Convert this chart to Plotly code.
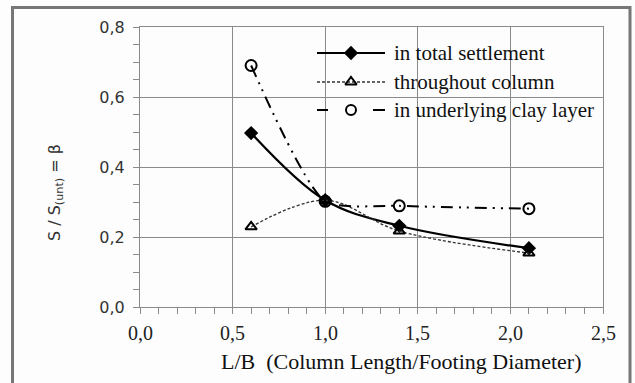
import plotly.graph_objects as go

# L/B ratios of the tested columns
lb_ratio = [0.6, 1.0, 1.4, 2.1]

# settlement ratio beta = S / S(unt)
beta_total = [0.497, 0.305, 0.232, 0.168]
beta_column = [0.229, 0.305, 0.217, 0.154]
beta_clay = [0.690, 0.302, 0.289, 0.281]

legend_labels = ["in total settlement", "throughout column", "in underlying clay layer"]

x_tick_vals = [0.0, 0.5, 1.0, 1.5, 2.0, 2.5]
x_tick_text = ["0,0", "0,5", "1,0", "1,5", "2,0", "2,5"]

X_RANGE = [0, 2.5]
Y_RANGE = [0, 0.8]

# plot area in pixels: left 140, right 603, top 27, bottom 307
W, H = 635, 383
L, R, T, B = 140, 603, 27, 307


def px_x(p):
    """pixel column -> paper fraction"""
    return (p - L) / (R - L)


def px_y(p):
    """pixel row -> paper fraction"""
    return (B - p) / (B - T)


def dx(p):
    """pixel column -> x data value (used for the legend keys)"""
    return X_RANGE[0] + px_x(p) * (X_RANGE[1] - X_RANGE[0])


def dy(p):
    """pixel row -> y data value (used for the legend keys)"""
    return Y_RANGE[0] + px_y(p) * (Y_RANGE[1] - Y_RANGE[0])


GRID = "#8a8a8a"
SERIF = "Liberation Serif"
SANS = "DejaVu Sans"
CLAY_DASH = "12px,6px,2px,6px,2px,6px"
COL_DASH = "3px,2px"

fig = go.Figure()

fig.add_trace(go.Scatter(
    x=lb_ratio, y=beta_total, mode="lines+markers",
    line=dict(color="black", width=2.2, shape="spline", smoothing=1.0),
    marker=dict(symbol="diamond", size=11, color="black"),
    showlegend=False))

fig.add_trace(go.Scatter(
    x=lb_ratio, y=beta_column, mode="lines+markers",
    line=dict(color="#333333", width=1.3, dash=COL_DASH, shape="spline", smoothing=1.0),
    marker=dict(symbol="triangle-up-open", size=10, color="black", line=dict(width=2)),
    showlegend=False))

fig.add_trace(go.Scatter(
    x=lb_ratio, y=beta_clay, mode="lines+markers",
    line=dict(color="black", width=2, dash=CLAY_DASH, shape="spline", smoothing=0.6),
    marker=dict(symbol="circle-open", size=11, color="black", line=dict(width=2)),
    showlegend=False))

# legend keys
kx0, kx1, kxm = dx(317), dx(385), dx(351)
ky = [dy(53), dy(82), dy(110)]

fig.add_trace(go.Scatter(
    x=[kx0, kx1], y=[ky[0], ky[0]], mode="lines",
    line=dict(color="black", width=2.2), showlegend=False, hoverinfo="skip"))
fig.add_trace(go.Scatter(
    x=[kxm], y=[ky[0]], mode="markers",
    marker=dict(symbol="diamond", size=11, color="black"), showlegend=False, hoverinfo="skip"))

fig.add_trace(go.Scatter(
    x=[kx0, kx1], y=[ky[1], ky[1]], mode="lines",
    line=dict(color="#333333", width=1.3, dash=COL_DASH), showlegend=False, hoverinfo="skip"))
fig.add_trace(go.Scatter(
    x=[kxm], y=[ky[1]], mode="markers",
    marker=dict(symbol="triangle-up-open", size=10, color="black", line=dict(width=2)),
    showlegend=False, hoverinfo="skip"))

fig.add_trace(go.Scatter(
    x=[kx0, dx(328), None, dx(373), kx1], y=[ky[2], ky[2], None, ky[2], ky[2]],
    mode="lines", line=dict(color="black", width=2), showlegend=False, hoverinfo="skip"))
fig.add_trace(go.Scatter(
    x=[kxm], y=[ky[2]], mode="markers",
    marker=dict(symbol="circle-open", size=10, color="black", line=dict(width=2)),
    showlegend=False, hoverinfo="skip"))

annotations = []
for label, yy in zip(legend_labels, [53, 82, 110]):
    annotations.append(dict(
        x=px_x(392), y=px_y(yy), xref="paper", yref="paper", text=label, showarrow=False,
        xanchor="left", yanchor="middle", font=dict(family=SERIF, size=21, color="#111")))

# x tick labels, set a little lower than the axis default
for v, t in zip(x_tick_vals, x_tick_text):
    annotations.append(dict(
        x=v, y=px_y(333), xref="x", yref="paper", text=t, showarrow=False,
        xanchor="center", yanchor="middle", font=dict(family=SERIF, size=20, color="#222")))

annotations.append(dict(
    x=px_x(219), y=px_y(361), xref="paper", yref="paper",
    text="L/B  (Column Length/Footing Diameter)", showarrow=False,
    xanchor="left", yanchor="middle", font=dict(family=SERIF, size=22, color="#111")))

annotations.append(dict(
    x=px_x(55), y=px_y(193), xref="paper", yref="paper",
    text="S / S<sub>(unt)</sub> = β", showarrow=False, textangle=-90,
    xanchor="center", yanchor="middle", font=dict(family=SANS, size=16, color="#333")))

# outer frame around the whole chart
shapes = [dict(
    type="rect", xref="paper", yref="paper",
    x0=px_x(12.5), x1=px_x(630), y0=px_y(392), y1=px_y(7.5),
    line=dict(color="#777777", width=3), fillcolor="rgba(0,0,0,0)", layer="above")]

fig.update_layout(
    width=W, height=H,
    margin=dict(l=L, r=W - R, t=T, b=H - B, pad=0),
    paper_bgcolor="#fdfdfd", plot_bgcolor="#fdfdfd",
    separators=",.",
    annotations=annotations, shapes=shapes,
    xaxis=dict(
        range=X_RANGE, tickvals=x_tick_vals, showticklabels=False,
        showgrid=True, gridcolor=GRID, gridwidth=1,
        showline=True, linecolor=GRID, linewidth=1, mirror=True,
        ticks="outside", ticklen=6, tickcolor=GRID, tickwidth=1,
        minor=dict(dtick=0.1, ticks="outside", ticklen=6, tickcolor=GRID),
        zeroline=False),
    yaxis=dict(
        range=Y_RANGE, dtick=0.2, tick0=0, tickformat=".1f", ticksuffix=" ",
        showgrid=True, gridcolor=GRID, gridwidth=1,
        showline=True, linecolor=GRID, linewidth=1, mirror=True,
        ticks="outside", ticklen=6, tickcolor=GRID, tickwidth=1,
        minor=dict(dtick=0.05, ticks="outside", ticklen=6, tickcolor=GRID),
        zeroline=False,
        tickfont=dict(family=SANS, size=16, color="#333")),
    showlegend=False,
)

fig.write_html("out.html")
